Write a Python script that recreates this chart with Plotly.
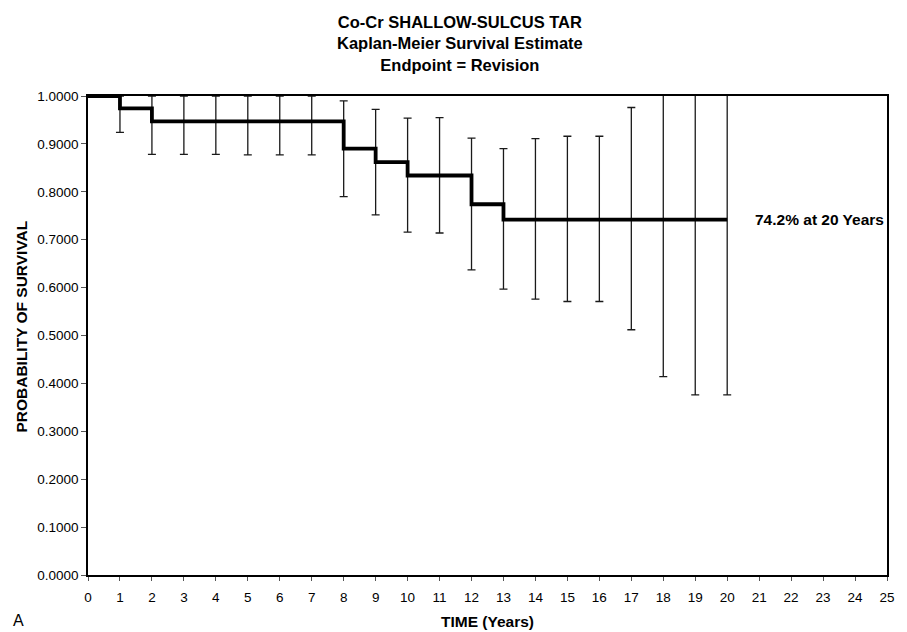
import plotly.graph_objects as go

# ---- data ----
years = list(range(0, 21))
survival = [1.000, 0.974, 0.947, 0.947, 0.947, 0.947, 0.947, 0.947, 0.890, 0.862,
            0.834, 0.834, 0.774, 0.742, 0.742, 0.742, 0.742, 0.742, 0.742, 0.742, 0.742]
bar_years = list(range(1, 21))
upper_ci = [1.000, 1.000, 1.000, 1.000, 1.000, 1.000, 1.000, 0.990, 0.972, 0.954,
            0.955, 0.912, 0.890, 0.911, 0.916, 0.916, 0.976, 1.080, 1.120, 1.120]
lower_ci = [0.924, 0.878, 0.878, 0.878, 0.877, 0.877, 0.877, 0.790, 0.752, 0.716,
            0.714, 0.637, 0.597, 0.576, 0.571, 0.571, 0.512, 0.414, 0.376, 0.376]
x_ticks = list(range(0, 26))
y_ticks = [i / 10 for i in range(0, 11)]
y_tick_labels = [f"{v:.4f}" for v in y_ticks]

bar_y = [survival[years.index(t)] for t in bar_years]
err_plus = [u - s for u, s in zip(upper_ci, bar_y)]
err_minus = [s - l for s, l in zip(bar_y, lower_ci)]

FONT = "Liberation Sans, Arial, sans-serif"

# page has an 8px body margin; plot area in page px: x 88..894, y 96..575
L, T, PW, PH = 88, 96, 806, 479

fig = go.Figure()

fig.add_trace(go.Scatter(
    x=bar_years, y=bar_y, mode="markers",
    marker=dict(size=1, opacity=0),
    error_y=dict(type="data", symmetric=False, array=err_plus, arrayminus=err_minus,
                 color="#1a1a1a", thickness=1.3, width=4),
    showlegend=False, hoverinfo="skip",
))

fig.add_trace(go.Scatter(
    x=years, y=survival, mode="lines", line=dict(color="black", width=3.8, shape="hv"),
    showlegend=False,
))

fig.add_annotation(x=20.8, y=survival[-1], xref="x", yref="y", xanchor="left", yanchor="middle",
                   text=f"<b>{survival[-1]*100:.1f}% at 20 Years</b>", showarrow=False,
                   font=dict(family=FONT, size=15.5, color="black"))

fig.add_annotation(x=(463 - L) / PW, y=1, xref="paper", yref="paper", xanchor="center", yanchor="bottom",
                   yshift=20,
                   text="<b>Co-Cr SHALLOW-SULCUS TAR<br>Kaplan-Meier Survival Estimate<br>Endpoint = Revision</b>",
                   showarrow=False, align="center",
                   font=dict(family=FONT, size=16.5, color="black"))

fig.add_annotation(x=0.5, y=0, xref="paper", yref="paper", xanchor="center", yanchor="middle",
                   yshift=-46, text="<b>TIME (Years)</b>", showarrow=False,
                   font=dict(family=FONT, size=15.5, color="black"))

fig.add_annotation(x=(20 - L) / PW, y=(T + PH - 327) / PH, xref="paper", yref="paper",
                   xanchor="center", yanchor="middle", textangle=-90,
                   text="<b>PROBABILITY OF SURVIVAL</b>", showarrow=False,
                   font=dict(family=FONT, size=15.5, color="black"))

fig.add_annotation(x=(18 - L) / PW, y=0, xref="paper", yref="paper", xanchor="center", yanchor="middle",
                   yshift=-45, text="A", showarrow=False,
                   font=dict(family=FONT, size=16, color="black"))

fig.update_xaxes(range=[0, 25], tickmode="array", tickvals=x_ticks, ticktext=[str(t) for t in x_ticks],
                 showgrid=False, zeroline=False, showline=True, linecolor="black", linewidth=1.5,
                 mirror=True, ticks="outside", ticklen=4, tickcolor="#555", tickwidth=1,
                 ticklabelstandoff=5,
                 tickfont=dict(family=FONT, size=13.5, color="black"))
fig.update_yaxes(range=[0, 1], tickmode="array", tickvals=y_ticks, ticktext=y_tick_labels,
                 showgrid=False, zeroline=False, showline=True, linecolor="black", linewidth=1.5,
                 mirror=True, ticks="outside", ticklen=5, tickcolor="#555", tickwidth=1,
                 tickfont=dict(family=FONT, size=13.5, color="black"))

fig.update_layout(
    width=899, height=624,
    margin=dict(l=L - 8, r=907 - 8 - (L - 8) - PW - 0, t=T - 8, b=624 - (T - 8) - PH),
    paper_bgcolor="white", plot_bgcolor="white",
    font=dict(family=FONT, color="black"),
)

fig.write_html("out.html")
